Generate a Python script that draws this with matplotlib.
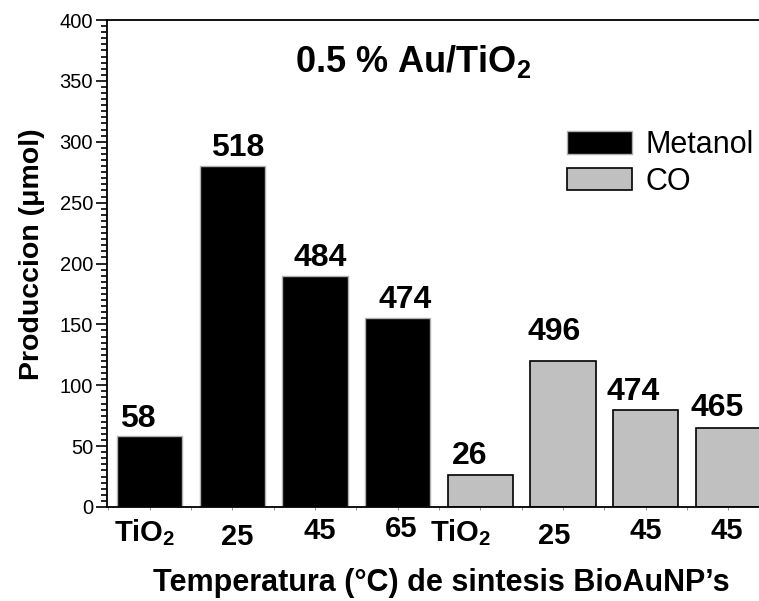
import matplotlib
matplotlib.use("Agg")
import matplotlib.pyplot as plt
from matplotlib.transforms import ScaledTranslation
from matplotlib.patches import Patch
from matplotlib.ticker import MultipleLocator

plt.rcParams['font.family'] = ['Liberation Sans', 'DejaVu Sans']
plt.rcParams['mathtext.fontset'] = 'custom'
plt.rcParams['mathtext.rm'] = 'Liberation Sans'
plt.rcParams['mathtext.bf'] = 'Liberation Sans:bold'

# ---- data ----
categories = ["TiO$_\\mathbf{2}$", "25", "45", "65", "TiO$_\\mathbf{2}$", "25", "45", "45"]
metanol_values = [58, 280, 190, 155]
co_values = [26, 120, 80, 65]
bar_labels = ["58", "518", "484", "474", "26", "496", "474", "465"]
series_names = ["Metanol", "CO"]
yticks = [0, 50, 100, 150, 200, 250, 300, 350, 400]

# ---- layout helpers (pixel offsets) ----
label_dx = [-12, 5, 5, 8, -11, -9, -13, -11]
label_dy = [2, 3, 3, 3, 4, 14, 3, 5]
tick_dx = [-5, 5, 5, 4, -20, -9, 0, -2]
tick_dy = [0, -6, 0, 2, 0, -5, 0, 0]

fig = plt.figure(figsize=(7.59, 6.01), dpi=100)
ax = fig.add_axes([107/759, 1 - 507/601, 1 - 107/759, (507 - 20)/601])

n_m = len(metanol_values)
x_m = list(range(n_m))
x_c = [n_m + i for i in range(len(co_values))]
width = 0.79
ax.bar(x_m, metanol_values, width, color='black', edgecolor='#b0b0b0', linewidth=1.0, label=series_names[0])
ax.bar(x_c, co_values, width, color='#c0c0c0', edgecolor='black', linewidth=1.2, label=series_names[1])

all_x = x_m + x_c
all_v = metanol_values + co_values
for i, (x, v, t) in enumerate(zip(all_x, all_v, bar_labels)):
    ax.annotate(t, (x, v), xytext=(label_dx[i] * 0.72, label_dy[i] * 0.72), textcoords='offset points',
                ha='center', va='bottom', fontsize=23, fontweight='bold')

ax.set_xlim(-0.514, 7.37)
ax.set_ylim(0, 400)
ax.set_yticks(yticks)
ax.yaxis.set_minor_locator(MultipleLocator(5))
ax.set_xticks(all_x)
ax.set_xticklabels(categories, fontsize=21, fontweight='bold')
ax.xaxis.set_minor_locator(MultipleLocator(0.5))
ax.tick_params(axis='y', which='major', direction='out', length=8, width=1.2, labelsize=14.5, pad=2)
ax.tick_params(axis='y', which='minor', direction='out', length=4.5, width=1.2)
ax.tick_params(axis='x', which='major', direction='out', length=2, width=0.6, color='#808080', pad=5)
ax.tick_params(axis='x', which='minor', direction='out', length=2, width=0.6, color='#808080')

for i, lab in enumerate(ax.get_xticklabels()):
    lab.set_transform(lab.get_transform() + ScaledTranslation(tick_dx[i] / 100, tick_dy[i] / 100, fig.dpi_scale_trans))

for s in ['left', 'bottom', 'top']:
    ax.spines[s].set_linewidth(1.3)
ax.spines['right'].set_visible(False)

ax.set_ylabel("Produccion (μmol)", fontsize=20.5, fontweight='bold')
ax.yaxis.set_label_coords(-0.095, 0.52)
ax.set_xlabel("Temperatura (°C) de sintesis BioAuNP’s", fontsize=22, fontweight='bold')
ax.xaxis.set_label_coords(0.512, -0.125)

fig.text(413/759, 1 - 62/601, "0.5 % Au/TiO$_\\mathbf{2}$", ha='center', va='center', fontsize=26, fontweight='bold')

handles = [Patch(facecolor='black', edgecolor='#b0b0b0'), Patch(facecolor='#c0c0c0', edgecolor='black', linewidth=1.2)]
leg = ax.legend(handles, series_names, loc='upper left', bbox_to_anchor=(567/759, 1 - 130/601),
                bbox_transform=fig.transFigure, frameon=False, fontsize=22,
                handlelength=2.12, handleheight=0.76, handletextpad=0.45, labelspacing=0.22, borderpad=0, borderaxespad=0)

fig.savefig("out.png", dpi=100)
